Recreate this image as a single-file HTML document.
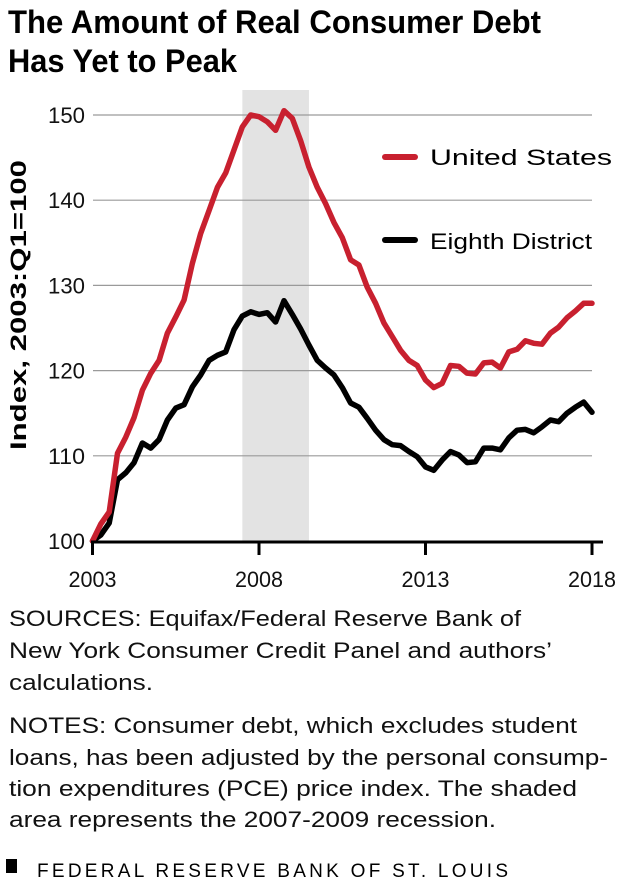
<!DOCTYPE html>
<html><head><meta charset="utf-8"><style>
html,body{margin:0;padding:0;background:#fff;}
svg{display:block;font-family:"Liberation Sans",sans-serif;}
</style></head><body>
<svg id="chart" width="621" height="889" viewBox="0 0 621 889" xmlns="http://www.w3.org/2000/svg">
<text x="8" y="33" font-size="32" font-weight="bold" textLength="533" lengthAdjust="spacingAndGlyphs">The Amount of Real Consumer Debt</text>
<text x="8" y="72" font-size="32" font-weight="bold" textLength="229" lengthAdjust="spacingAndGlyphs">Has Yet to Peak</text>
<g id="plot"></g>
<text transform="translate(26,305) rotate(-90)" text-anchor="middle" font-size="22" font-weight="bold" textLength="290" lengthAdjust="spacingAndGlyphs">Index, 2003:Q1=100</text>
<g>
<line x1="385" y1="157" x2="415" y2="157" stroke="#c8202f" stroke-width="6" stroke-linecap="round"/>
<text x="430" y="165" font-size="22" textLength="182" lengthAdjust="spacingAndGlyphs">United States</text>
<line x1="385" y1="240" x2="415" y2="240" stroke="#000" stroke-width="6" stroke-linecap="round"/>
<text x="430" y="249" font-size="22" textLength="162" lengthAdjust="spacingAndGlyphs">Eighth District</text>
</g>
<g font-size="22" fill="#111">
<text x="9" y="626" textLength="512" lengthAdjust="spacingAndGlyphs">SOURCES: Equifax/Federal Reserve Bank of</text>
<text x="9" y="658" textLength="543" lengthAdjust="spacingAndGlyphs">New York Consumer Credit Panel and authors’</text>
<text x="9" y="690" textLength="144" lengthAdjust="spacingAndGlyphs">calculations.</text>
<text x="9" y="733" textLength="568" lengthAdjust="spacingAndGlyphs">NOTES: Consumer debt, which excludes student</text>
<text x="9" y="765" textLength="599" lengthAdjust="spacingAndGlyphs">loans, has been adjusted by the personal consump-</text>
<text x="9" y="796" textLength="568" lengthAdjust="spacingAndGlyphs">tion expenditures (PCE) price index. The shaded</text>
<text x="9" y="827" textLength="487" lengthAdjust="spacingAndGlyphs">area represents the 2007-2009 recession.</text>
</g>
<rect x="6" y="859" width="11" height="14" fill="#000"/>
<text x="37" y="877" font-size="19" textLength="473" lengthAdjust="spacing" letter-spacing="2">FEDERAL RESERVE BANK OF ST. LOUIS</text>
</svg>
<script>
const yTicks = [100, 110, 120, 130, 140, 150];
const xTicks = [2003, 2008, 2013, 2018];
const recession = [2007.5, 2009.5];
const startYear = 2003;
const usValues = [100,102,103.4,110.3,112.2,114.5,117.7,119.7,121.2,124.4,126.3,128.3,132.6,136.1,138.8,141.5,143.2,145.9,148.6,150,149.8,149.2,148.2,150.5,149.6,147,143.9,141.5,139.6,137.4,135.6,133,132.4,129.8,127.9,125.6,124,122.4,121.2,120.6,118.9,118,118.5,120.6,120.5,119.7,119.6,120.9,121,120.3,122.2,122.5,123.5,123.2,123.1,124.4,125.1,126.2,127,127.9,127.9];
const eighthValues = [100,100.7,102.1,107.2,108,109.2,111.5,110.9,111.9,114.2,115.6,116,118.1,119.5,121.2,121.8,122.2,124.8,126.4,126.9,126.6,126.8,125.7,128.2,126.6,124.9,123,121.2,120.3,119.5,118,116.2,115.7,114.4,113,111.9,111.3,111.2,110.5,109.9,108.7,108.3,109.5,110.5,110.1,109.2,109.3,110.9,110.9,110.7,112.1,113,113.1,112.7,113.4,114.2,114,115,115.7,116.3,115.1];

const NS = 'http://www.w3.org/2000/svg';
const plot = document.getElementById('plot');
const x = yr => 92.5 + (yr - 2003) * (592 - 92.5) / 15;
const y = v => 541 - (v - 100) * (541 - 115) / 50;
function mk(tag, attrs){const e=document.createElementNS(NS,tag);for(const k in attrs)e.setAttribute(k,attrs[k]);plot.appendChild(e);return e;}

const band = mk('rect',{x:x(recession[0]),y:90,width:x(recession[1])-x(recession[0]),height:451,fill:'#e3e3e3'});



yTicks.forEach(t=>{
  if(t>100){
    const g = mk('line',{x1:93,x2:592,y1:y(t),y2:y(t),stroke:'#9a9a9a','stroke-width':1.2});
    
    
  }
  const l = mk('text',{x:85,y:y(t)+8,'text-anchor':'end','font-size':22,fill:'#111',textLength:37,lengthAdjust:'spacingAndGlyphs'});
  l.textContent = t;
  
  
});

function series(vals, color, name){
  const pts = vals.map((v,i)=>x(startYear+i/4).toFixed(1)+','+y(v).toFixed(1)).join(' ');
  const p = mk('polyline',{points:pts,fill:'none',stroke:color,'stroke-width':5.5,'stroke-linejoin':'round','stroke-linecap':'round'});
  
  
}
series(eighthValues,'#000','eighth-district-line');
series(usValues,'#c8202f','united-states-line');

const ax = mk('line',{x1:91,x2:603,y1:542,y2:542,stroke:'#000','stroke-width':3});


xTicks.forEach(t=>{
  const tk = mk('line',{x1:x(t),x2:x(t),y1:542,y2:555,stroke:'#000','stroke-width':3});
  
  
  const l = mk('text',{x:x(t),y:587,'text-anchor':'middle','font-size':22,fill:'#111',textLength:48,lengthAdjust:'spacingAndGlyphs'});
  l.textContent = t;
  
  
});
</script>
</body></html>
